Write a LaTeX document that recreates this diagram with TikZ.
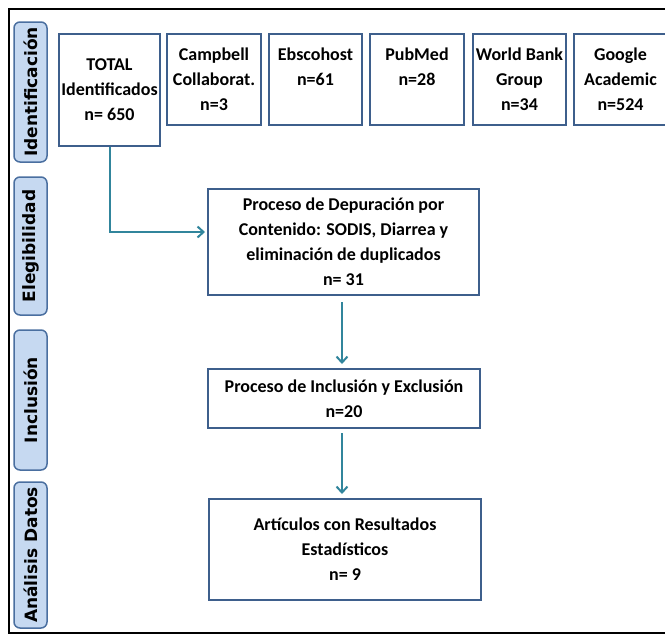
\documentclass[tikz,border=0pt]{standalone}
\usepackage{fontspec}
\setmainfont{Carlito}
\newfontfamily\labelfont{DejaVu Sans}
\usetikzlibrary{arrows.meta}
\definecolor{boxblue}{HTML}{3E5F8C}
\definecolor{tabfill}{HTML}{C6D9F1}
\definecolor{tabline}{HTML}{4A6FA0}
\definecolor{arrteal}{HTML}{31859C}
\begin{document}
\begin{tikzpicture}[x=1pt,y=-1pt,
  box/.style={draw=boxblue,line width=2pt,inner sep=0pt,align=center,
    font=\bfseries\fontsize{18}{25}\selectfont},
  tab/.style={draw=tabline,fill=tabfill,line width=1.5pt,rounded corners=6pt,
    rotate=90,inner sep=0pt,minimum height=33pt,
    font=\labelfont\bfseries\fontsize{17}{20}\selectfont},
  arr/.style={draw=arrteal,line width=2pt,-{Straight Barb[length=6pt,width=11pt,line width=2pt]}}]
\useasboundingbox (0,0) rectangle (665,635);
\fill[white] (0,0) rectangle (665,635);
% frame
\draw[line width=2pt] (667,9) -- (9,9) -- (9,633) -- (667,633);
% side tabs
\node[tab,minimum width=140pt] (tid) at (30.5,92) {Identificación};
\node[tab,minimum width=138pt] (tel) at (30.5,246) {Elegibilidad};
\node[tab,minimum width=140pt] (tin) at (30.5,400) {Inclusión};
\node[tab,minimum width=146pt] (tan) at (30.5,555) {Análisis Datos};
% top boxes
\node[box,minimum width=101pt,minimum height=112pt] (total) at (109.5,90) {TOTAL\\Identificados\\n= 650};
\node[box,minimum width=94pt,minimum height=91pt] (camp) at (214,79.5) {Campbell\\Collaborat.\\n=3};
\node[box,minimum width=93pt,minimum height=91pt] (ebsco) at (315.5,79.5) {Ebscohost\\n=61\\\mbox{}};
\node[box,minimum width=94pt,minimum height=91pt] (pub) at (417,79.5) {PubMed\\n=28\\\mbox{}};
\node[box,minimum width=93pt,minimum height=91pt] (wb) at (519.5,79.5) {World Bank\\Group\\n=34};
\node[box,minimum width=93pt,minimum height=91pt] (goo) at (620.5,79.5) {\raisebox{-3pt}{Google}\\\raisebox{-3pt}{Academic}\\\raisebox{-3pt}{n=524}};
% process boxes
\node[box,minimum width=271pt,minimum height=106pt] (p1) at (343.5,242) {Proceso de Depuración por\\Contenido: SODIS, Diarrea y\\eliminación de duplicados\\n= 31};
\node[box,minimum width=272pt,minimum height=59pt] (p2) at (344,398.5) {Proceso de Inclusión y Exclusión\\n=20};
\node[box,minimum width=272pt,minimum height=101pt] (p3) at (345,549.5) {Artículos con Resultados\\Estadísticos\\n= 9};
% connectors
\coordinate (m1) at (0,232);
\coordinate (xa) at (342,0);
\draw[arr,shorten >=2pt] (total.south) |- (p1.west |- m1);
\draw[arr,shorten <=6pt,shorten >=4pt] (xa |- p1.south) -- (xa |- p2.north);
\draw[arr,shorten <=4pt,shorten >=4pt] (xa |- p2.south) -- (xa |- p3.north);
\end{tikzpicture}
\end{document}
